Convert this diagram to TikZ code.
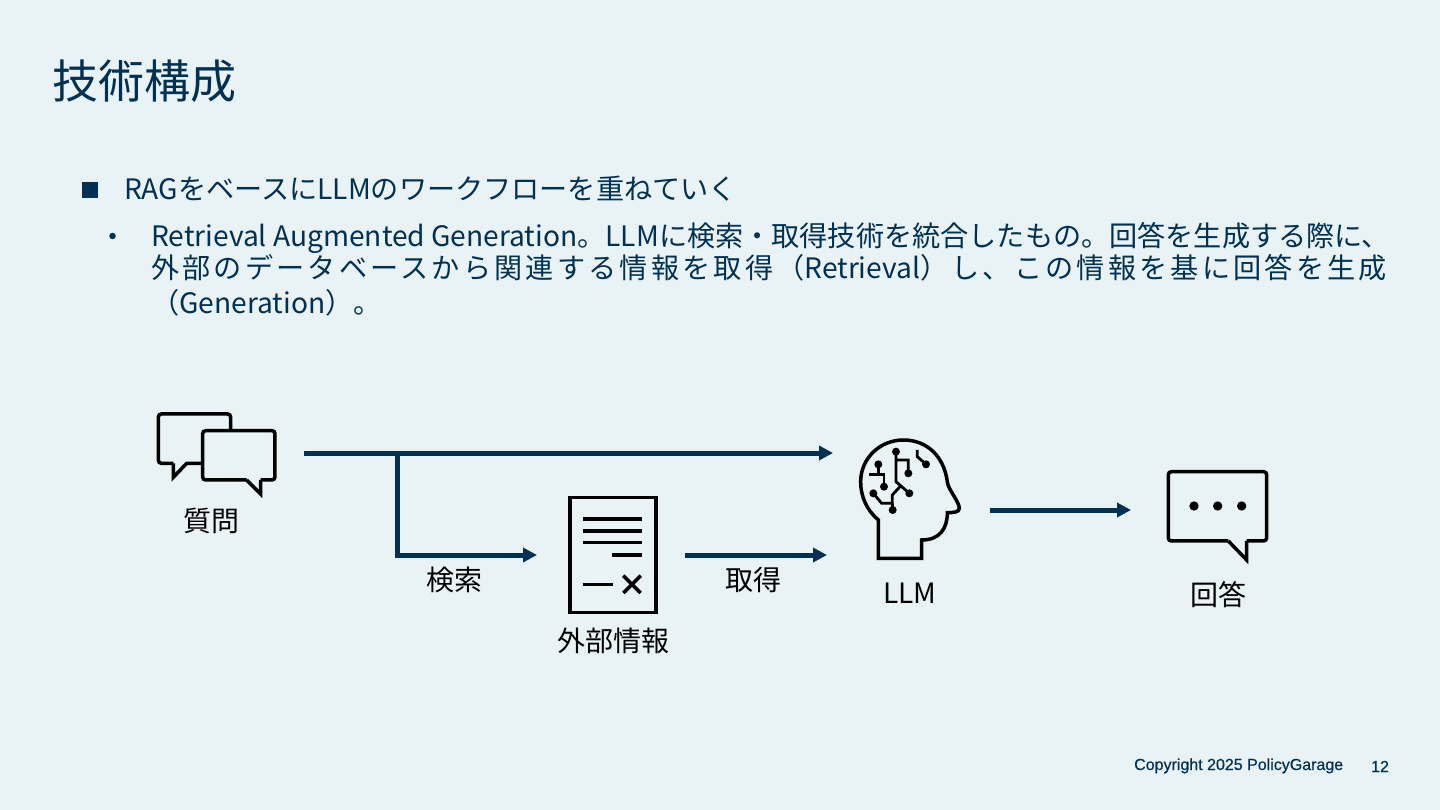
\documentclass[tikz,border=0pt]{standalone}
\usepackage{fontspec}
\setmainfont{Noto Sans CJK JP}
\newfontfamily\spacedfont[LetterSpace=11.3]{Noto Sans CJK JP}
\newfontfamily\footfont[FakeBold=0.5]{Liberation Sans}
\usepackage{xcolor}
\usetikzlibrary{arrows.meta, positioning}
\definecolor{slidebg}{HTML}{E9F3F6}
\definecolor{navy}{HTML}{003153}

\begin{document}
\begin{tikzpicture}[
  x=1pt, y=-1pt,
  line join=miter,
  title/.style={anchor=base west, inner sep=0, text=navy, font=\fontsize{46}{46}\selectfont},
  body/.style={anchor=base west, inner sep=0, text=navy, font=\fontsize{28.15}{28}\selectfont},
  foot/.style={anchor=base west, inner sep=0, text=navy, font=\fontsize{16}{16}\selectfont\footfont},
  lbl/.style={inner sep=0, text=black, font=\fontsize{28}{28}\selectfont},
  iconbox/.style={inner sep=0},
  ar/.style={-{Stealth[length=14pt, width=14pt, inset=0pt]}, line width=5pt, draw=navy},
  ic/.style={draw=black, line width=3.5pt},
  trace/.style={draw=black, line width=2.8pt},
  zoomed/.style={x=0.3333pt, y=-0.3333pt}
]
\useasboundingbox[fill=slidebg] (0,0) rectangle (1440,810);

\node[title] (head) at (52.5,99) {技術構成};
\node[fill=navy, minimum size=16pt, inner sep=0] (sq) at (90,190) {};
\node[body] (line1) at (124,200) {RAGをベースにLLMのワークフローを重ねていく};
\node[fill=navy, circle, minimum size=6.5pt, inner sep=0] (dot) at (112.5,236) {};
\node[body] (line2) at (151,247) {Retrieval Augmented Generation。LLMに検索・取得技術を統合したもの。回答を生成する際に、};
\node[body] (line3) at (151,278.5) {{\spacedfont 外部のデータベースから関連する情報を取得（}Retrieval{\spacedfont ）し、この情報を基に回答を生成}};
\node[body] (line4) at (151,313) {（Generation）。};

% chat icon
\begin{scope}[shift={(140,400)}, zoomed]
\draw[ic, rounded corners=3pt] (272,92) -- (272,42) -- (55,42) -- (55,190) -- (100,190);
\draw[ic] (100,190) -- (100,232) -- (140,190) -- (188,190);
\draw[ic, rounded corners=3pt] (320,240) -- (188,240) -- (188,92) -- (405,92) -- (405,240) -- (362,240);
\draw[ic] (320,240) -- (362,282) -- (362,240);
\end{scope}
\node[iconbox, minimum width=108pt, minimum height=80pt] (chat) at (211,454) {};
\node[lbl, below=14pt of chat] (ask) {質問};

% document icon
\node[draw=black, line width=3.5pt, minimum width=86pt, minimum height=115pt, inner sep=0] (doc) at (613,555) {};
\begin{scope}[shift={(550,485)}, zoomed]
\draw[ic] (98,102) -- (277,102) (98,138) -- (277,138) (98,173) -- (277,173) (187,210) -- (277,210) (98,298) -- (188,298);
\draw[ic] (220,272) -- (272,324) (220,324) -- (272,272);
\end{scope}
\node[lbl, below=13pt of doc] (ext) {外部情報};

% brain icon
\begin{scope}[shift={(840,425)}, zoomed]
\draw[ic] (115,400) -- (115,285) .. controls (80,255) and (62,215) .. (62,170)
  .. controls (62,100) and (120,45) .. (190,45)
  .. controls (262,45) and (312,95) .. (322,170)
  .. controls (322,190) and (358,230) .. (358,250)
  .. controls (358,262) and (340,263) .. (322,263)
  .. controls (322,310) and (300,345) .. (245,345) -- (245,400) -- cycle;
\draw[trace] (168,80) -- (168,170) -- (208,205) (168,105) -- (205,105) -- (205,145);
\draw[trace] (115,118) -- (115,148) (88,148) -- (132,148) -- (132,185);
\draw[trace] (100,205) -- (125,235) -- (157,235) -- (158,255) (157,235) -- (157,210) -- (180,185);
\draw[trace] (232,75) -- (232,95) -- (258,118);
\foreach \cx/\cy in {168/80, 208/205, 205/145, 115/118, 132/185, 100/205, 158/255, 258/118}
  \fill[black] (\cx,\cy) circle (12);
\end{scope}
\node[iconbox, minimum width=100pt, minimum height=118pt] (brain) at (910,499) {};
\node[lbl, below=25pt of brain] (llm) {LLM};

% answer icon
\begin{scope}[shift={(1150,460)}, zoomed]
\draw[ic, rounded corners=3pt] (235,243) -- (55,243) -- (55,35) -- (350,35) -- (350,243) -- (290,243);
\draw[ic] (235,243) -- (290,300) -- (290,243);
\foreach \cx in {132,203,275}
  \fill[black] (\cx,138) circle (14);
\end{scope}
\node[iconbox, minimum width=100pt, minimum height=92pt] (reply) at (1218,517) {};
\node[lbl, below=18pt of reply] (ans) {回答};

% connectors
\coordinate (qout) at (304,453);
\coordinate (split) at (397,453);
\coordinate (llmin) at (833,453);
\coordinate (docin) at (537,555);
\coordinate (docout) at (685,555);
\coordinate (llmin2) at (827,555);
\coordinate (llmout) at (990,510);
\coordinate (replyin) at (1131,510);
\draw[ar] (qout) -- (llmin);
\draw[ar] (split) |- (docin);
\draw[ar] (docout) -- (llmin2);
\draw[ar] (llmout) -- (replyin);
\node[lbl] (search) at (454,580) {検索};
\node[lbl] (fetch) at (753,579.5) {取得};

\node[foot] (copy) at (1134,770) {Copyright 2025 PolicyGarage};
\node[foot] (page) at (1371,772) {12};
\end{tikzpicture}
\end{document}
